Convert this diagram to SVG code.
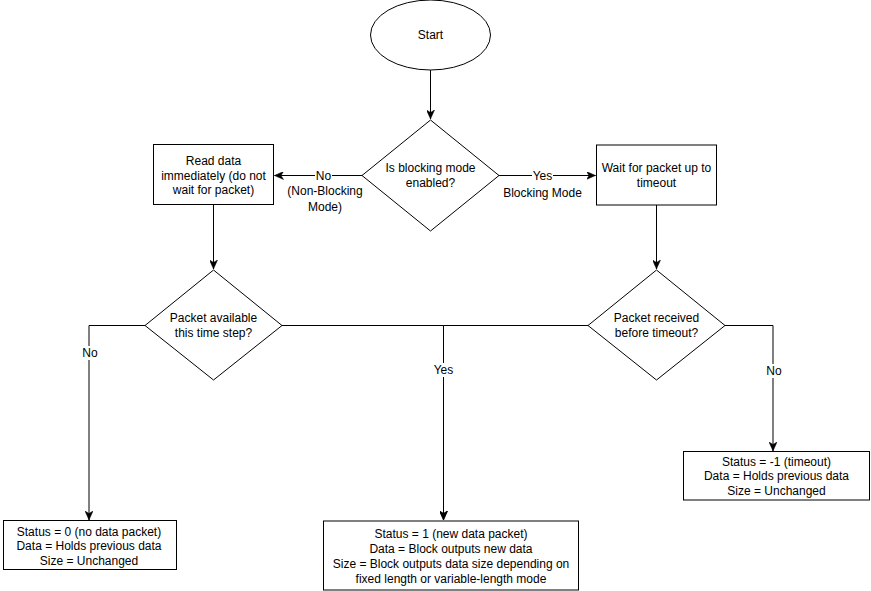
<svg xmlns="http://www.w3.org/2000/svg" width="871" height="591" viewBox="0 0 871 591">
<style>
.shape{fill:#ffffff;stroke:#000000;stroke-width:1}
.edge{fill:none;stroke:#000000;stroke-width:1}
text{font-family:"Liberation Sans",Arial,Helvetica,sans-serif;font-size:12px;fill:#000000;text-anchor:middle;dominant-baseline:central}
.lblbg{fill:#ffffff;stroke:none}
</style>
<defs>
<marker id="arr" markerUnits="userSpaceOnUse" viewBox="0 0 10 8" refX="9" refY="4" markerWidth="10" markerHeight="8" orient="auto">
<path d="M0,0 L9,4 L0,8 L2.5,4 Z" fill="#000000" stroke="#000000" stroke-width="0.5"/>
</marker>
</defs>
<rect x="0" y="0" width="871" height="591" fill="#ffffff"/>
<g id="connectors">
<path class="edge" d="M430.5,70 L430.5,119" marker-end="url(#arr)"/>
<path class="edge" d="M362,175.5 L274.5,175.5" marker-end="url(#arr)"/>
<path class="edge" d="M499,175.5 L595.5,175.5" marker-end="url(#arr)"/>
<path class="edge" d="M213.5,204.5 L213.5,269" marker-end="url(#arr)"/>
<path class="edge" d="M656.5,205 L656.5,269" marker-end="url(#arr)"/>
<path class="edge" d="M145,325.5 L89,325.5 L89,520" marker-end="url(#arr)"/>
<path class="edge" d="M282,325.5 L443.5,325.5 L443.5,520" marker-end="url(#arr)"/>
<path class="edge" d="M588,325.5 L443.5,325.5 L443.5,520" marker-end="url(#arr)"/>
<path class="edge" d="M725,325.5 L773,325.5 L773,451" marker-end="url(#arr)"/>
<rect class="lblbg" x="315" y="168" width="17" height="14"/>
<text x="323.5" y="175.5">No</text>
<text x="325" y="191">(Non-Blocking</text>
<text x="325" y="207">Mode)</text>
<rect class="lblbg" x="532" y="168" width="21" height="14"/>
<text x="542.5" y="175.5">Yes</text>
<text x="542.5" y="193">Blocking Mode</text>
<rect class="lblbg" x="81" y="346" width="17" height="14"/>
<text x="90" y="353">No</text>
<rect class="lblbg" x="433" y="363" width="21" height="14"/>
<text x="443.5" y="370">Yes</text>
<rect class="lblbg" x="765" y="364" width="17" height="14"/>
<text x="774" y="371">No</text>
</g>
<g id="start">
<ellipse class="shape" cx="430.5" cy="35" rx="60" ry="35"/>
<text x="430.5" y="35">Start</text>
</g>
<g id="decision-blocking">
<polygon class="shape" points="430.5,120 499,175.5 430.5,231 362,175.5"/>
<text x="430.5" y="168">Is blocking mode</text>
<text x="430.5" y="183">enabled?</text>
</g>
<g id="read-immediately">
<rect class="shape" x="153.5" y="144.5" width="120" height="60"/>
<text x="213.5" y="161">Read data</text>
<text x="213.5" y="175.5">immediately (do not</text>
<text x="213.5" y="190">wait for packet)</text>
</g>
<g id="wait-packet">
<rect class="shape" x="596.5" y="145" width="120" height="60"/>
<text x="656.5" y="168">Wait for packet up to</text>
<text x="656.5" y="183">timeout</text>
</g>
<g id="decision-available">
<polygon class="shape" points="213.5,270 282,325.5 213.5,380 145,325.5"/>
<text x="213.5" y="317.5">Packet available</text>
<text x="213.5" y="332.5">this time step?</text>
</g>
<g id="decision-received">
<polygon class="shape" points="656.5,270 725,325.5 656.5,380 588,325.5"/>
<text x="656.5" y="317.5">Packet received</text>
<text x="656.5" y="332.5">before timeout?</text>
</g>
<g id="status-zero">
<rect class="shape" x="3.5" y="520.5" width="173" height="49"/>
<text x="89" y="531.5">Status = 0 (no data packet)</text>
<text x="89" y="546">Data = Holds previous data</text>
<text x="89" y="560.5">Size = Unchanged</text>
</g>
<g id="status-one">
<rect class="shape" x="323.5" y="521" width="255" height="69"/>
<text x="451" y="533.5">Status = 1 (new data packet)</text>
<text x="451" y="548.5">Data = Block outputs new data</text>
<text x="451" y="563.5">Size = Block outputs data size depending on</text>
<text x="451" y="578.5">fixed length or variable-length mode</text>
</g>
<g id="status-timeout">
<rect class="shape" x="683.5" y="451.5" width="186" height="48.5"/>
<text x="776.5" y="461.5">Status = -1 (timeout)</text>
<text x="776.5" y="476">Data = Holds previous data</text>
<text x="776.5" y="490.5">Size = Unchanged</text>
</g>
</svg>
